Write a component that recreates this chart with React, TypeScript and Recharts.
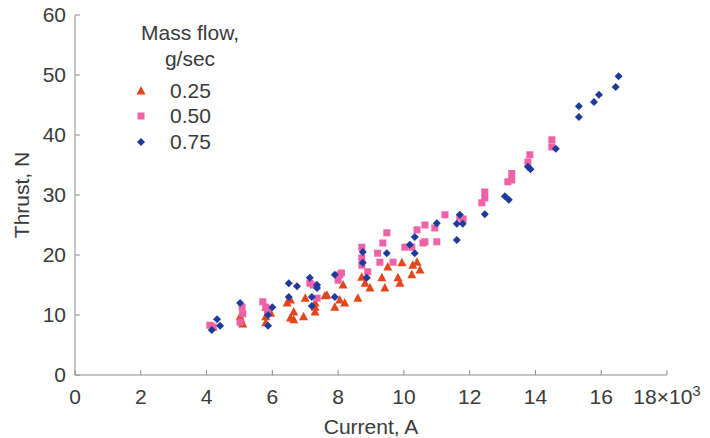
import { ScatterChart, Scatter, XAxis, YAxis } from "recharts";

// current in 10^3 A, thrust in N
const flow025 = [
  [4.2, 8.0], [5.02, 9.7], [5.1, 8.5], [5.05, 9.2], [5.8, 11.3], [5.8, 9.7], [5.8, 8.7], [5.95, 10.3],
  [6.45, 12.0], [6.55, 12.5], [6.55, 9.5], [6.65, 9.2], [6.65, 10.5], [6.95, 9.7], [7.0, 12.8],
  [7.3, 11.3], [7.3, 10.5], [7.3, 12.0], [7.6, 13.2], [7.66, 13.3], [7.9, 11.3], [8.05, 12.5],
  [8.15, 15.0], [8.2, 12.0], [8.6, 12.8], [8.72, 16.3], [8.82, 15.3], [8.97, 14.5], [9.33, 16.2],
  [9.42, 14.5], [9.51, 18.0], [9.82, 16.2], [9.88, 15.3], [9.94, 18.7], [10.24, 16.7], [10.27, 18.3],
  [10.4, 18.8], [10.49, 17.5],
];
const flow050 = [
  [4.1, 8.3], [4.2, 8.0], [5.02, 8.8], [5.08, 11.3], [5.1, 10.2], [5.71, 12.2], [5.8, 11.3], [5.85, 10.6],
  [7.14, 15.3], [7.25, 15.0], [7.36, 12.8], [8.0, 15.8], [8.05, 16.7], [8.1, 17.0], [8.72, 21.3],
  [8.72, 19.5], [8.72, 18.3], [8.9, 17.2], [9.2, 20.3], [9.27, 18.8], [9.36, 22.0], [9.48, 23.7],
  [9.67, 18.8], [10.03, 21.3], [10.24, 21.3], [10.4, 24.2], [10.58, 22.0], [10.64, 25.0], [10.64, 22.2],
  [10.94, 24.5], [11.0, 22.2], [11.25, 26.7], [11.7, 26.3], [11.8, 26.0], [12.37, 28.7], [12.46, 29.5],
  [12.46, 30.5], [13.16, 32.2], [13.28, 32.5], [13.28, 33.6], [13.77, 35.5], [13.83, 36.7], [14.5, 38.0],
  [14.5, 39.2],
];
const flow075 = [
  [4.16, 7.5], [4.32, 9.3], [4.41, 8.2], [5.02, 12.0], [5.87, 10.0], [5.87, 8.2], [6.0, 11.3],
  [6.5, 15.3], [6.75, 14.8], [6.5, 13.0], [7.14, 16.2], [7.36, 15.0], [7.36, 14.5], [7.2, 11.5],
  [7.2, 13.0], [7.9, 16.7], [7.9, 13.0], [8.75, 20.5], [8.75, 18.7], [8.87, 16.2], [9.48, 20.3],
  [10.18, 21.7], [10.33, 23.0], [10.33, 20.3], [11.0, 25.3], [11.61, 22.5], [11.61, 25.2], [11.79, 25.2],
  [11.7, 26.7], [12.46, 26.8], [13.07, 29.8], [13.19, 29.2], [13.77, 34.7], [13.85, 34.3], [14.62, 37.7],
  [15.32, 43.0], [15.32, 44.8], [15.78, 45.5], [15.93, 46.7], [16.44, 48.0], [16.53, 49.8],
];

const xTicks = [0, 2, 4, 6, 8, 10, 12, 14, 16, 18];
const yTicks = [0, 10, 20, 30, 40, 50, 60];

const toPts = (arr: number[][]) => arr.map(([x, y]) => ({ x, y }));

const FONT = "'Liberation Sans', Arial, sans-serif";
const TEXT = "#3a3a3a";
const FS = 21;

const Triangle = (p: any) => (
  <polygon
    points={`${p.cx},${p.cy - 5} ${p.cx - 4.5},${p.cy + 3.5} ${p.cx + 4.5},${p.cy + 3.5}`}
    fill="#e2471c"
  />
);
const Square = (p: any) => <rect x={p.cx - 3.5} y={p.cy - 3.5} width={7} height={7} fill="#f062a6" />;
const Diamond = (p: any) => (
  <polygon
    points={`${p.cx},${p.cy - 4} ${p.cx + 4},${p.cy} ${p.cx},${p.cy + 4} ${p.cx - 4},${p.cy}`}
    fill="#1d3a9c"
  />
);

const series = [
  { name: "0.25", data: flow025, shape: Triangle },
  { name: "0.50", data: flow050, shape: Square },
  { name: "0.75", data: flow075, shape: Diamond },
];

const XTick = (p: any) => {
  const v = p.payload.value;
  return (
    <text x={p.x} y={p.y} dy="0.71em" textAnchor="middle" fill={TEXT} fontSize={FS} fontFamily={FONT}>
      {v === 18 ? (
        <>
          18×10
          <tspan dy={-8} fontSize={15}>3</tspan>
        </>
      ) : (
        v
      )}
    </text>
  );
};

export default function App() {
  return (
    <div style={{ position: "absolute", left: 0, top: 0, width: 710, height: 438, background: "#fff" }}>
      <ScatterChart width={710} height={438} margin={{ top: 15, right: 43, bottom: 0, left: 0 }}>
        <XAxis
          type="number"
          dataKey="x"
          domain={[0, 18]}
          ticks={xTicks}
          height={63}
          stroke="#8a8a8a"
          tickSize={-5}
          tickMargin={19}
          tick={<XTick />}
          label={{ value: "Current, A", position: "insideBottom", offset: 4, fill: TEXT, fontSize: FS, fontFamily: FONT }}
        />
        <YAxis
          type="number"
          dataKey="y"
          domain={[0, 60]}
          ticks={yTicks}
          width={75}
          stroke="#8a8a8a"
          tickSize={-5}
          tickMargin={14}
          tick={{ fill: TEXT, fontSize: FS, fontFamily: FONT }}
          label={{ value: "Thrust, N", angle: -90, position: "insideLeft", offset: 22, fill: TEXT, fontSize: FS, fontFamily: FONT, style: { textAnchor: "middle" } }}
        />
        {series.map((s) => (
          <Scatter key={s.name} name={s.name} data={toPts(s.data)} shape={s.shape} isAnimationActive={false} />
        ))}
      </ScatterChart>
      <div style={{ position: "absolute", left: 125, top: 20, width: 130, fontFamily: FONT, fontSize: FS, color: TEXT }}>
        <div style={{ textAlign: "center", lineHeight: "26px" }}>Mass flow,</div>
        <div style={{ textAlign: "center", lineHeight: "26px", marginBottom: 6 }}>g/sec</div>
        {series.map((s) => {
          const Shape = s.shape;
          return (
            <div key={s.name} style={{ display: "flex", alignItems: "center", height: 25.5 }}>
              <svg width={26} height={20}>
                <Shape cx={16} cy={10} />
              </svg>
              <span style={{ marginLeft: 19 }}>{s.name}</span>
            </div>
          );
        })}
      </div>
    </div>
  );
}
